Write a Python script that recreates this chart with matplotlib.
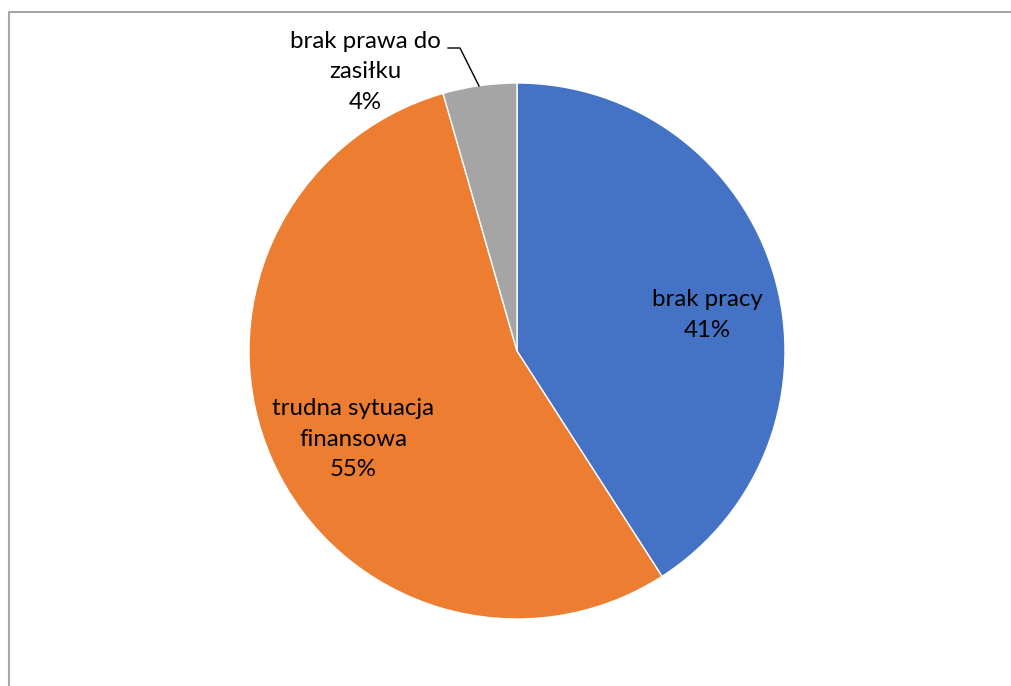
import matplotlib
matplotlib.use("Agg")
import matplotlib.pyplot as plt

# Data
labels = ["brak pracy", "trudna sytuacja\nfinansowa", "brak prawa do\nzasiłku"]
values = [40.9, 54.65, 4.45]
pct_labels = ["41%", "55%", "4%"]
colors = ["#4472C4", "#ED7D31", "#A5A5A5"]

W, H = 1011, 686
plt.rcParams["font.family"] = ["Lato", "DejaVu Sans"]

fig = plt.figure(figsize=(W / 100, H / 100), dpi=100)
ax = fig.add_axes([0, 0, 1, 1])

wedges, _ = ax.pie(values, colors=colors, startangle=90, counterclock=False,
                   center=(517, H - 351), radius=268, frame=True,
                   wedgeprops=dict(edgecolor="white", linewidth=1))
ax.set_xlim(0, W)
ax.set_ylim(0, H)
ax.axis("off")

# labels
pos = [(707, 315), (353, 439), (365, 72)]
for lab, pct, (x, y) in zip(labels, pct_labels, pos):
    ax.text(x, H - y, f"{lab}\n{pct}", ha="center", va="center",
            fontsize=17.3, linespacing=1.55, color="#000000")

# leader line for small slice
ax.plot([448, 460, 479], [H - 48, H - 48, H - 86], color="black", lw=1)

# chart frame (left and top edges visible)
ax.plot([9, 9, W + 5], [-5, H - 12, H - 12], color="#A6A6A6", lw=1.5, clip_on=False)

fig.savefig("out.png", dpi=100)
